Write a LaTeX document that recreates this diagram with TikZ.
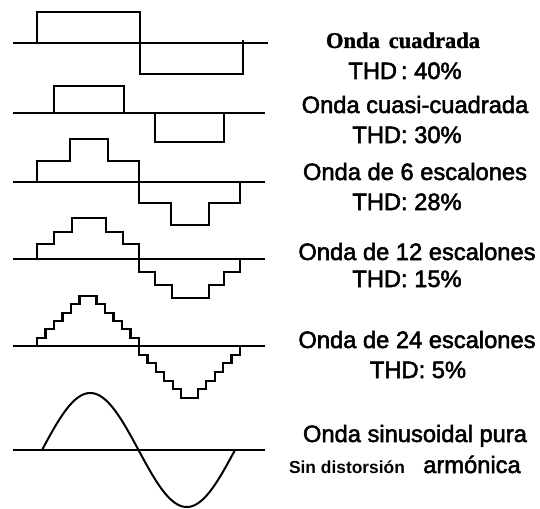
\documentclass[tikz,border=0pt]{standalone}
\usepackage{fontspec}
\setmainfont{Liberation Sans}[FakeBold=2.2]
\newfontfamily\serifbold{Liberation Serif Bold}[FakeBold=1.2]
\newfontfamily\sansbold{Liberation Sans Bold}
\begin{document}
\begin{tikzpicture}[x=1pt,y=-1pt,
  wave/.style={line width=2.3pt,line join=miter},
  axisline/.style={line width=2.2pt},
  lbl/.style={anchor=base,inner sep=0pt,font=\fontsize{23.7}{28}\selectfont},
  lblsmall/.style={anchor=base,inner sep=0pt,font=\sansbold\fontsize{17.4}{21}\selectfont}]
\useasboundingbox (0,0) rectangle (540,508);
% 1 square
\draw[axisline] (13,43) -- (268,43);
\draw[wave] (37,43)--(37,12)--(140,12)--(140,74)--(243,74)--(243,40);
% 2 quasi-square
\draw[axisline] (13,113) -- (265,113);
\draw[wave] (54,113)--(54,86)--(124,86)--(124,113);
\draw[wave] (155,113)--(155,142)--(224,142)--(224,113);
% 3 six steps
\draw[axisline] (13,182) -- (265,182);
\draw[wave] (37,182)--(37,161)--(70,161)--(70,139)--(108,139)--(108,161)--(139,161)--(139,203)--(171,203)--(171,225)--(209,225)--(209,203)--(240,203)--(240,182);
% 4 twelve steps
\draw[axisline] (13,259) -- (265,259);
\draw[wave] (37,259)--(37,244)--(54,244)--(54,232)--(72,232)--(72,218)--(106,218)--(106,232)--(123,232)--(123,244)--(139,244)--(139,272)--(155,272)--(155,285)--(172,285)--(172,298)--(209,298)--(209,285)--(224,285)--(224,272)--(240,272)--(240,259);
% 5 twenty-four steps
\draw[axisline] (13,346) -- (265,346);
\draw[wave] (37,346)--(37,337.7)--(45.5,337.7)--(45.5,329.3)--(54,329.3)--(54,321)--(62.5,321)--(62.5,312.7)--(71,312.7)--(71,304.3)--(79.5,304.3)--(79.5,296)--(96.5,296)--(96.5,304.3)--(105,304.3)--(105,312.7)--(113.5,312.7)--(113.5,321)--(122,321)--(122,329.3)--(130.5,329.3)--(130.5,337.7)--(139,337.7)--(139,354.7)--(147.4,354.7)--(147.4,363.3)--(155.8,363.3)--(155.8,372)--(164.3,372)--(164.3,380.7)--(172.7,380.7)--(172.7,389.3)--(181.1,389.3)--(181.1,398)--(197.9,398)--(197.9,389.3)--(206.3,389.3)--(206.3,380.7)--(214.8,380.7)--(214.8,372)--(223.2,372)--(223.2,363.3)--(231.6,363.3)--(231.6,354.7)--(240,354.7)--(240,346);
% 6 sine
\draw[axisline] (13,450) -- (265,450);
\draw[wave,line width=2pt] plot[domain=42:235,samples=120,smooth] (\x,{450-57*sin((\x-42)/193*360)});
% labels
\node[anchor=base,inner sep=0pt,font=\serifbold\fontsize{22.5}{26}\selectfont] (t1) at (403,48) {Onda\hspace{0.4em}cuadrada};
\node[lbl] (t2) at (405,79) {THD\,: 40\%};
\node[lbl] (t3) at (415,113) {Onda cuasi-cuadrada};
\node[lbl] (t4) at (407,143) {THD: 30\%};
\node[lbl] (t5) at (415,180) {Onda de 6 escalones};
\node[lbl] (t6) at (407,210) {THD: 28\%};
\node[lbl] (t7) at (417,260) {Onda de 12 escalones};
\node[lbl] (t8) at (407,287) {THD: 15\%};
\node[lbl] (t9) at (417,348) {Onda de 24 escalones};
\node[lbl] (t10) at (418,378) {THD: 5\%};
\node[lbl] (t11) at (415,442) {Onda sinusoidal pura};
\node[lblsmall] (t12) at (347,473) {Sin distorsión};
\node[lbl] (t13) at (472,473) {armónica};
\end{tikzpicture}
\end{document}
